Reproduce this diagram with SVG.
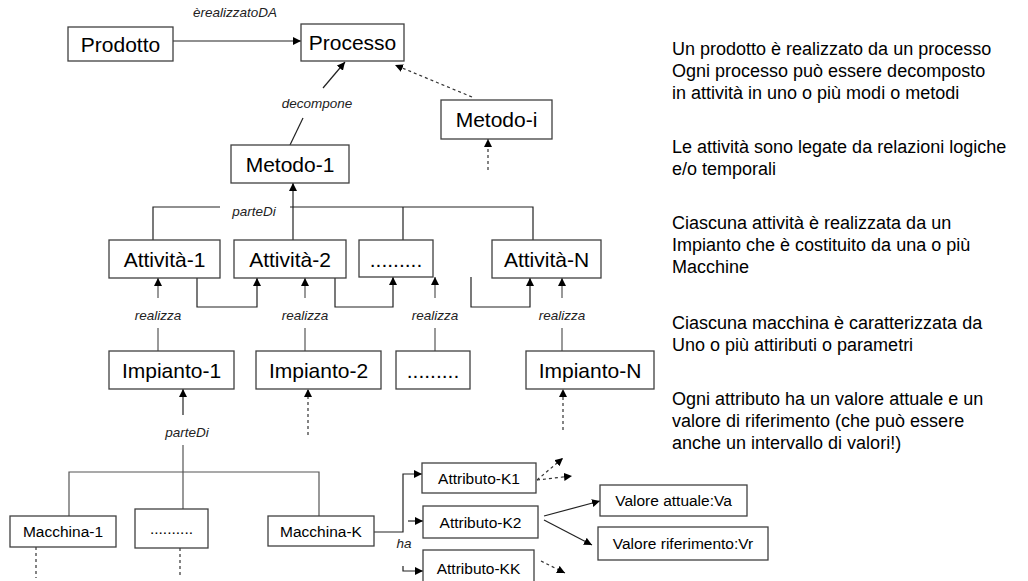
<svg xmlns="http://www.w3.org/2000/svg" width="1028" height="581" viewBox="0 0 1028 581">
<defs>
<marker id="ah" viewBox="0 0 8 8" refX="8" refY="4" markerWidth="8" markerHeight="8" markerUnits="userSpaceOnUse" orient="auto">
<path d="M0,0 L8,4 L0,8 z" fill="#000"/>
</marker>
<style>
.box{fill:#fff;stroke:#404040;stroke-width:1.3}
.t{font-family:"Liberation Sans",Arial,sans-serif;font-size:21px;fill:#000;text-anchor:middle}
.ts{font-family:"Liberation Sans",Arial,sans-serif;font-size:15.5px;fill:#000;text-anchor:middle}
.lbl{font-family:"Liberation Sans",Arial,sans-serif;font-size:13.5px;font-style:italic;fill:#222;text-anchor:middle}
.note{font-family:"Liberation Sans",Arial,sans-serif;font-size:18px;fill:#000}
.ln{fill:none;stroke:#222;stroke-width:1.2}
.gl{fill:none;stroke:#555;stroke-width:1.2}
.ds{fill:none;stroke:#333;stroke-width:1.2;stroke-dasharray:3,3}
.arr{marker-end:url(#ah)}
</style>
</defs>
<rect width="1028" height="581" fill="#fff"/>

<g id="connectors">
<line class="ln arr" x1="173" y1="41" x2="301" y2="41"/>
<line class="ln" x1="290" y1="145" x2="303" y2="118"/>
<line class="ln arr" x1="323" y1="88" x2="345" y2="62"/>
<line class="ds arr" x1="472" y1="97" x2="395" y2="65"/>
<line class="ds arr" x1="488" y1="170" x2="488" y2="139"/>
<path class="ln" d="M153,240 V207 H220 M290,207 H533 V240 M403,207 V240"/>
<line class="ln arr" x1="293" y1="240" x2="293" y2="183"/>
<path class="ln arr" d="M197,278 V307 H257 V278"/>
<path class="ln arr" d="M335,278 V307 H393 V277"/>
<path class="ln arr" d="M471,277 V307 H530 V278"/>
<line class="gl arr" x1="158" y1="298" x2="158" y2="278"/>
<line class="gl" x1="158" y1="328" x2="158" y2="351"/>
<line class="gl arr" x1="305" y1="298" x2="305" y2="278"/>
<line class="gl" x1="305" y1="328" x2="305" y2="351"/>
<line class="gl arr" x1="435" y1="298" x2="435" y2="277"/>
<line class="gl" x1="435" y1="328" x2="435" y2="351"/>
<line class="gl arr" x1="562" y1="298" x2="562" y2="278"/>
<line class="gl" x1="562" y1="328" x2="562" y2="351"/>
<line class="ln arr" x1="183" y1="415" x2="183" y2="389"/>
<path class="gl" d="M183,445 V472 M69,516 V472 H319 V516 M183,472 V509"/>
<line class="ds arr" x1="308" y1="435" x2="308" y2="389"/>
<line class="ds arr" x1="563" y1="430" x2="563" y2="389"/>
<line class="ds" x1="36" y1="547" x2="36" y2="578"/>
<line class="ds" x1="180" y1="548" x2="180" y2="578"/>
<path class="ln arr" d="M374,532 H403 V474 H422"/>
<line class="ln arr" x1="408" y1="521" x2="423" y2="521"/>
<path class="ln arr" d="M403,566 V571 H423"/>
<line class="ds arr" x1="537" y1="480" x2="563" y2="458"/>
<line class="ds arr" x1="537" y1="480" x2="572" y2="476"/>
<line class="ds arr" x1="541" y1="561" x2="565" y2="573"/>
<line class="ln arr" x1="544" y1="516" x2="600" y2="501"/>
<line class="ln arr" x1="544" y1="520" x2="592" y2="545"/>
<text class="lbl" x="235" y="17">èrealizzatoDA</text>
<text class="lbl" x="317" y="108">decompone</text>
<text class="lbl" x="254" y="216">parteDi</text>
<text class="lbl" x="158" y="320">realizza</text>
<text class="lbl" x="305" y="320">realizza</text>
<text class="lbl" x="435" y="320">realizza</text>
<text class="lbl" x="562" y="320">realizza</text>
<text class="lbl" x="187" y="437">parteDi</text>
<text class="lbl" x="404" y="548">ha</text>
</g>

<g id="prodotto"><rect class="box" x="68" y="27" width="105" height="34"/><text class="t" x="120.5" y="51.5">Prodotto</text></g>
<g id="processo"><rect class="box" x="301" y="24" width="103" height="37"/><text class="t" x="352.5" y="50">Processo</text></g>
<g id="metodo-i"><rect class="box" x="441" y="100" width="111" height="39"/><text class="t" x="496.5" y="127">Metodo-i</text></g>
<g id="metodo-1"><rect class="box" x="231" y="145" width="118" height="38"/><text class="t" x="290" y="171.5">Metodo-1</text></g>

<g id="attivita-1"><rect class="box" x="109" y="240" width="111" height="38"/><text class="t" x="164.5" y="266.5">Attività-1</text></g>
<g id="attivita-2"><rect class="box" x="234" y="240" width="112" height="38"/><text class="t" x="290" y="266.5">Attività-2</text></g>
<g id="attivita-dots"><rect class="box" x="359" y="240" width="74" height="37"/><text class="t" x="396" y="266.5">.........</text></g>
<g id="attivita-n"><rect class="box" x="492" y="240" width="109" height="38"/><text class="t" x="546.5" y="266.5">Attività-N</text></g>

<g id="impianto-1"><rect class="box" x="109" y="351" width="125" height="38"/><text class="t" x="171.5" y="377.5">Impianto-1</text></g>
<g id="impianto-2"><rect class="box" x="256" y="351" width="125" height="38"/><text class="t" x="318.5" y="377.5">Impianto-2</text></g>
<g id="impianto-dots"><rect class="box" x="396" y="351" width="74" height="38"/><text class="t" x="433" y="377.5">.........</text></g>
<g id="impianto-n"><rect class="box" x="526" y="351" width="128" height="38"/><text class="t" x="590" y="377.5">Impianto-N</text></g>

<g id="macchina-1"><rect class="box" x="10" y="516" width="106" height="31"/><text class="ts" x="63" y="537">Macchina-1</text></g>
<g id="macchina-dots"><rect class="box" x="135" y="509" width="73" height="39"/><text class="ts" x="171.5" y="534">..........</text></g>
<g id="macchina-k"><rect class="box" x="268" y="516" width="106" height="30"/><text class="ts" x="321" y="536.5">Macchina-K</text></g>

<g id="attributo-k1"><rect class="box" x="422" y="463" width="114" height="30"/><text class="ts" x="479" y="483.5">Attributo-K1</text></g>
<g id="attributo-k2"><rect class="box" x="423" y="506" width="115" height="32"/><text class="ts" x="480.5" y="527.5">Attributo-K2</text></g>
<g id="attributo-kk"><rect class="box" x="423" y="550" width="111" height="36"/><text class="ts" x="478.5" y="573.5">Attributo-KK</text></g>
<g id="valore-attuale"><rect class="box" x="600" y="485" width="147" height="31"/><text class="ts" x="673.5" y="506">Valore attuale:Va</text></g>
<g id="valore-riferimento"><rect class="box" x="598" y="527" width="170" height="33"/><text class="ts" x="683" y="549">Valore riferimento:Vr</text></g>

<g id="note">
<text class="note" x="672" y="55">Un prodotto è realizzato da un processo</text>
<text class="note" x="672" y="77">Ogni processo può essere decomposto</text>
<text class="note" x="672" y="99">in attività in uno o più modi o metodi</text>
<text class="note" x="672" y="153">Le attività sono legate da relazioni logiche</text>
<text class="note" x="672" y="175">e/o temporali</text>
<text class="note" x="672" y="229">Ciascuna attività è realizzata da un</text>
<text class="note" x="672" y="251">Impianto che è costituito da una o più</text>
<text class="note" x="672" y="273">Macchine</text>
<text class="note" x="672" y="329">Ciascuna macchina è caratterizzata da</text>
<text class="note" x="672" y="351">Uno o più attiributi o parametri</text>
<text class="note" x="672" y="405">Ogni attributo ha un valore attuale e un</text>
<text class="note" x="672" y="427">valore di riferimento (che può essere</text>
<text class="note" x="672" y="449">anche un intervallo di valori!)</text>
</g>
</svg>
